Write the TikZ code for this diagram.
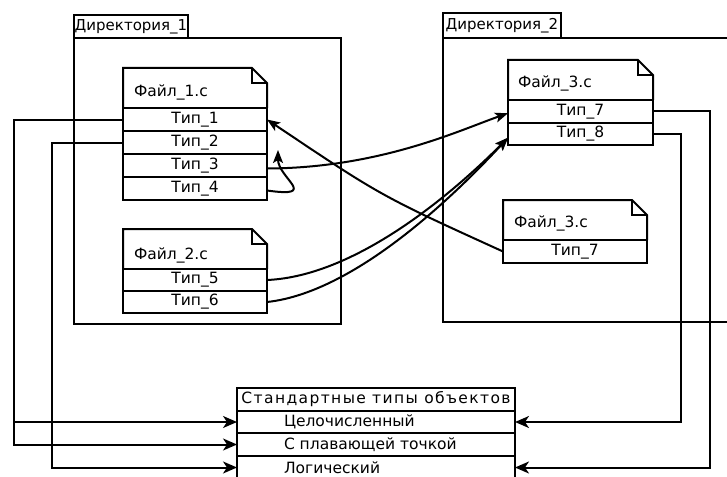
\documentclass[tikz,border=0pt]{standalone}
\usepackage{fontspec}
\setmainfont{DejaVu Sans}
\usetikzlibrary{arrows.meta,calc}
\newcommand\fileoutline[1]{%
  \draw (#1.south west) -- (#1.north west) -- ([xshift=-15pt]#1.north east) -- ([yshift=-15pt]#1.north east) -- (#1.south east);
  \draw ([xshift=-15pt]#1.north east) |- ([yshift=-15pt]#1.north east);}
\begin{document}
\begin{tikzpicture}[x=1pt,y=-1pt,line width=2pt,
  txt/.style={font=\fontsize{15.5pt}{18pt}\selectfont},
  cell/.style={draw,rectangle,inner sep=0pt,outer sep=0pt,minimum width=#1,txt},
  cell/.default=144pt,
  head/.style={rectangle,inner sep=0pt,outer sep=0pt,minimum width=#1,minimum height=40pt},
  head/.default=144pt,
  htxt/.style={anchor=west,inner sep=0pt,txt},
  frame/.style={draw,rectangle,inner sep=0pt,outer sep=0pt,anchor=north west},
  arr/.style={-{Stealth[length=14pt,width=12pt,inset=4pt]}},
  arrc/.style={-{Stealth[length=13pt,width=10pt,inset=3pt]}}]
\useasboundingbox (0,0) rectangle (727,476);
\clip (0,0) rectangle (727,476);
\fill[white] (0,0) rectangle (727,476);
% directories
\node[frame,minimum width=114pt,minimum height=23pt,font=\fontsize{15pt}{18pt}\selectfont] (d1tab) at (74,15) {Директория\_1};
\node[frame,minimum width=267pt,minimum height=286pt] (d1) at (74,38) {};
\node[frame,minimum width=118pt,minimum height=25pt,font=\fontsize{15pt}{18pt}\selectfont] (d2tab) at (443,13) {Директория\_2};
\node[frame,minimum width=320pt,minimum height=284pt] (d2) at (443,38) {};
% file 1
\node[head,anchor=north west] (f1) at (123,68) {};
\fileoutline{f1}
\node[htxt] (f1t) at ([xshift=10pt,yshift=16pt]f1.south west) {Файл\_1.c};
\node[cell,minimum height=23pt,anchor=north] (t1) at (f1.south) {Тип\_1};
\node[cell,minimum height=23pt,anchor=north] (t2) at (t1.south) {Тип\_2};
\node[cell,minimum height=23pt,anchor=north] (t3) at (t2.south) {Тип\_3};
\node[cell,minimum height=23pt,anchor=north] (t4) at (t3.south) {Тип\_4};
% file 2
\node[head,anchor=north west] (f2) at (123,229) {};
\fileoutline{f2}
\node[htxt] (f2t) at ([xshift=10pt,yshift=14pt]f2.south west) {Файл\_2.c};
\node[cell,minimum height=22pt,anchor=north] (t5) at (f2.south) {Тип\_5};
\node[cell,minimum height=22pt,anchor=north] (t6) at (t5.south) {Тип\_6};
% file 3a
\node[head=145pt,anchor=north west] (f3) at (508,60) {};
\fileoutline{f3}
\node[htxt] (f3t) at ([xshift=9pt,yshift=17pt]f3.south west) {Файл\_3.c};
\node[cell=145pt,minimum height=22.5pt,anchor=north] (t7) at (f3.south) {Тип\_7};
\node[cell=145pt,minimum height=22.5pt,anchor=north] (t8) at (t7.south) {Тип\_8};
% file 3b
\node[head,anchor=north west] (f4) at (503,200) {};
\fileoutline{f4}
\node[htxt] (f4t) at ([xshift=10pt,yshift=17pt]f4.south west) {Файл\_3.c};
\node[cell,minimum height=23pt,anchor=north] (t7b) at (f4.south) {Тип\_7};
% standard types
\node[cell=278pt,minimum height=23pt,anchor=north west,font=\fontsize{15.5pt}{18pt}\selectfont\addfontfeatures{LetterSpace=9}] (sh) at (237,388) {Стандартные типы объектов};
\node[cell=278pt,minimum height=22pt,anchor=north] (s1) at (sh.south) {\makebox[184pt][l]{Целочисленный}};
\node[cell=278pt,minimum height=23pt,anchor=north] (s2) at (s1.south) {\makebox[184pt][l]{С плавающей точкой}};
\node[cell=278pt,minimum height=23pt,anchor=north] (s3) at (s2.south) {\makebox[184pt][l]{Логический}};
% routing coordinates
\coordinate (L1) at (14,0);
\coordinate (L2) at (52,0);
\coordinate (R1) at (710,0);
\coordinate (R2) at (681,0);
% orthogonal connectors
\draw[arr] (t1.west) -- (t1.west -| L1) |- (s1.west);
\draw[arr] (t1.west) -- (t1.west -| L1) |- (s2.west);
\draw[arr] (t2.west) -- (t2.west -| L2) |- (s3.west);
\draw[arr] (t7.east) -- (t7.east -| R1) |- (s3.east);
\draw[arr] (t8.east) -- (t8.east -| R2) |- (s1.east);
% curved connectors
\draw[arrc] ([yshift=-3pt]t3.east) .. controls (380,168) and (460,130) .. ([yshift=-2pt]t7.west);
\draw[arrc] (t5.east) .. controls (360,276) and (460,186) .. ([yshift=-4pt]t8.west);
\draw[arrc] (t6.east) .. controls (360,292) and (465,184) .. ([yshift=-4pt]t8.west);
\draw[arrc] (t7b.west) .. controls (381,196) .. (t1.east);
\draw[arrc] ([yshift=-2pt]t4.east) .. controls (320,198) and (278,178) .. ([xshift=11pt,yshift=4pt]t3.north east);
\end{tikzpicture}
\end{document}
